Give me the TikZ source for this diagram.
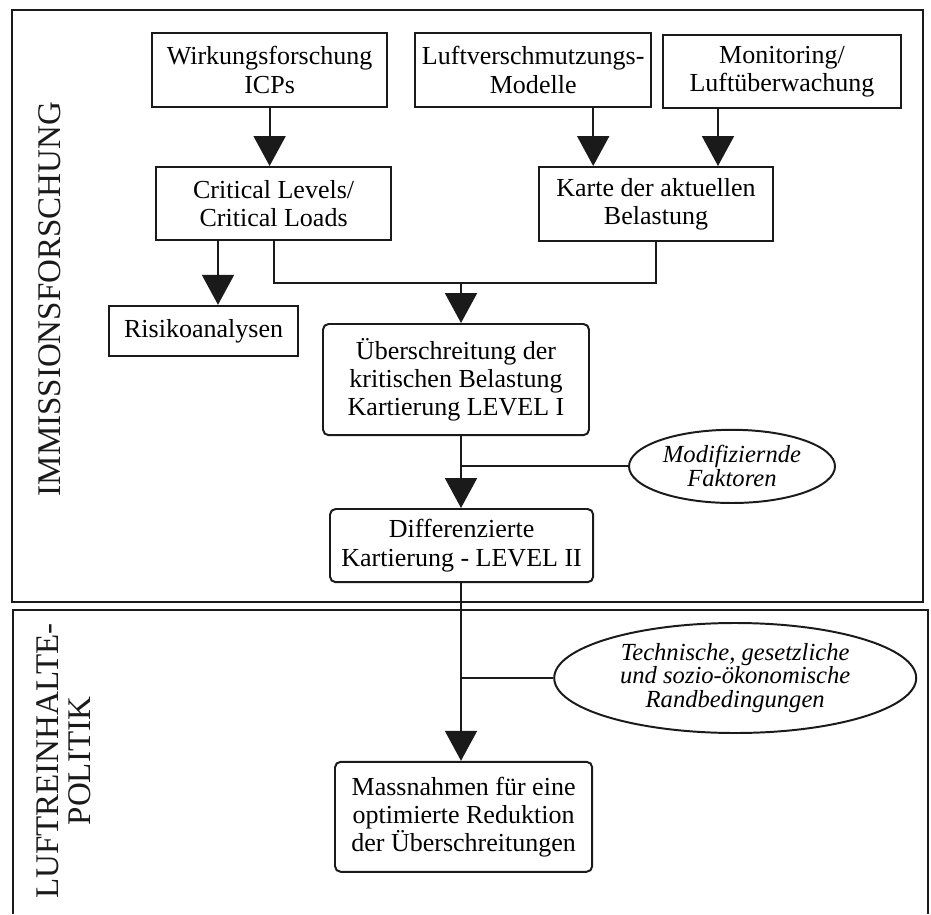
\documentclass[tikz,border=0pt]{standalone}
\usepackage{fontspec}
\setmainfont{Liberation Serif}
\usepackage{tikz}
\usetikzlibrary{arrows.meta,positioning,shapes.geometric}
\definecolor{inkc}{HTML}{1A1A1A}
\tikzset{
  flowbox/.style={rectangle, draw=inkc, line width=1.4pt, fill=white, inner sep=0pt,
    align=center, font=\fontsize{18.5}{20}\selectfont},
  roundbox/.style={flowbox, rounded corners=4pt},
  factornode/.style={ellipse, draw=inkc, line width=1.4pt, fill=white, inner sep=0pt,
    align=center, font=\fontsize{17.5}{17}\selectfont\itshape},
  sidelabel/.style={rotate=90, align=center, text=inkc, font=\fontsize{23.5}{23}\selectfont},
  frameline/.style={draw=inkc, line width=1.5pt},
  plainedge/.style={draw=inkc, line width=1.4pt},
  flowedge/.style={-{Triangle[length=7.5mm, width=8mm]}, draw=inkc, line width=1.4pt},
}

\begin{document}
\begin{tikzpicture}
  \useasboundingbox (0,0) rectangle (23.275,22.85);
  % frames
  \draw[frameline] (0.3,7.8) rectangle (23.075,22.6);
  \draw[frameline] (0.325,0) -- (0.325,7.6) -- (23.2,7.6) -- (23.2,0);
  \node[sidelabel] (immi) at (1.25,15.375) {IMMISSIONSFORSCHUNG};
  \node[sidelabel] (poli) at (1.6,3.825) {LUFTREINHALTE-\\POLITIK};

  \node[flowbox, minimum width=5.88cm, minimum height=1.85cm] (wirk) at (6.74,21.10) {Wirkungsforschung\\ICPs};
  \node[flowbox, minimum width=5.90cm, minimum height=1.85cm] (luft) at (13.33,21.10) {Luftverschmutzungs-\\Modelle};
  \node[flowbox, minimum width=5.95cm, minimum height=1.83cm] (moni) at (19.55,21.06) {Monitoring/\\Luftüberwachung};
  \node[flowbox, minimum width=5.88cm, minimum height=1.83cm] (crit) at (6.84,17.76) {Critical Levels/\\Critical Loads};
  \node[flowbox, minimum width=5.85cm, minimum height=1.85cm] (karte) at (16.40,17.75) {Karte der aktuellen\\Belastung};
  \node[flowbox, minimum width=4.73cm, minimum height=1.25cm] (risiko) at (5.09,14.58) {Risikoanalysen};
  \node[roundbox, minimum width=6.65cm, minimum height=2.78cm] (ueber) at (11.40,13.36) {Überschreitung der\\kritischen Belastung\\Kartierung LEVEL I};
  \node[factornode, minimum width=5.15cm, minimum height=1.83cm] (modi) at (18.30,11.19) {Modifiziernde\\Faktoren};
  \node[roundbox, minimum width=6.58cm, minimum height=1.83cm] (diff) at (11.54,9.21) {Differenzierte\\Kartierung - LEVEL II};
  \node[factornode, minimum width=9.05cm, minimum height=2.75cm] (tech) at (18.38,5.90) {Technische, gesetzliche\\und sozio-ökonomische\\Randbedingungen};
  \node[roundbox, minimum width=6.43cm, minimum height=2.75cm] (mass) at (11.59,2.43) {Massnahmen für eine\\optimierte Reduktion\\der Überschreitungen};
  \coordinate (jn) at (11.525,15.775);

  \draw[flowedge] (wirk.south) -- (wirk.south |- crit.north);
  \draw[flowedge] ([xshift=1.5cm]luft.south) -- ([xshift=1.5cm]luft.south |- karte.north);
  \draw[flowedge] ([xshift=-1.6cm]moni.south) -- ([xshift=-1.6cm]moni.south |- karte.north);
  \draw[flowedge] ([xshift=-1.39cm]crit.south) -- ([xshift=-1.39cm]crit.south |- risiko.north);
  \draw[plainedge] (crit.south) -- (crit.south |- jn) -- (karte.south |- jn) -- (karte.south);
  \draw[flowedge] (jn) -- (jn |- ueber.north);
  \draw[flowedge] (jn |- ueber.south) -- (jn |- diff.north);
  \draw[plainedge] (jn |- modi.west) -- (modi.west);
  \draw[flowedge] (jn |- diff.south) -- (jn |- mass.north);
  \draw[plainedge] (jn |- tech.west) -- (tech.west);
\end{tikzpicture}
\end{document}
